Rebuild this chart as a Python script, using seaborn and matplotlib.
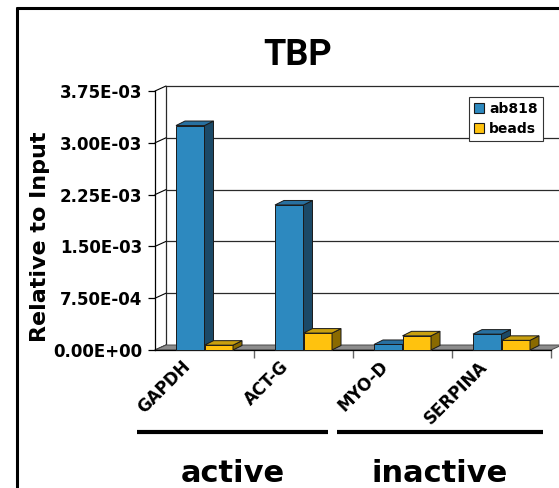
import matplotlib
matplotlib.use("Agg")
import matplotlib.pyplot as plt
import numpy as np
import pandas as pd
import seaborn as sns
from matplotlib import transforms
from matplotlib.font_manager import FontProperties
from matplotlib.lines import Line2D
from matplotlib.patches import Patch, Polygon

# ChIP enrichment for TBP, relative to input
genes = ["GAPDH", "ACT-G", "MYO-D", "SERPINA"]
series = ["ab818", "beads"]
ab818 = [3.25e-3, 2.10e-3, 8.0e-5, 2.3e-4]
beads = [7.0e-5, 2.45e-4, 2.05e-4, 1.4e-4]
ytick_values = [0.0, 7.5e-4, 1.5e-3, 2.25e-3, 3.0e-3, 3.75e-3]
ytick_labels = ["0.00E+00", "7.50E-04", "1.50E-03", "2.25E-03", "3.00E-03", "3.75E-03"]
group_names = ["active", "inactive"]
group_genes = [["GAPDH", "ACT-G"], ["MYO-D", "SERPINA"]]

# colours of the pseudo-3D boxes: front / top / side
FACE = {"ab818": "#2D89BF", "beads": "#FFC20E"}
TOP = {"ab818": "#2870A0", "beads": "#C9A00F"}
SIDE = {"ab818": "#1B4967", "beads": "#8A6A00"}
EDGE = "#1A1A1A"

W_PX, H_PX = 559, 488
DPI = 100
sns.set_style("white")
plt.rcParams["font.family"] = ["DejaVu Sans"]
plt.rcParams["text.color"] = "black"
plt.rcParams["axes.labelcolor"] = "black"
plt.rcParams["xtick.color"] = "black"
plt.rcParams["ytick.color"] = "black"

fig = plt.figure(figsize=(W_PX / DPI, H_PX / DPI), dpi=DPI)
ax_left, ax_bottom, ax_w, ax_h = 155, 138, 396, 259
ax = fig.add_axes([ax_left / W_PX, ax_bottom / H_PX, ax_w / W_PX, ax_h / H_PX])

df = pd.DataFrame({
    "gene": genes * len(series),
    "series": [s for s in series for _ in genes],
    "value": ab818 + beads,
})
sns.barplot(data=df, x="gene", y="value", hue="series", order=genes,
            hue_order=series, palette=[FACE[s] for s in series],
            width=0.576, saturation=1, errorbar=None, edgecolor=EDGE,
            linewidth=0.7, legend=False, ax=ax)

ymax = ytick_values[-1]
ax.set_xlim(-0.5, len(genes) - 0.5)
ax.set_ylim(0, ymax)
ax.set_xlabel("")
ax.set_ylabel("")
ax.set_facecolor("white")

# pixel depth -> data units
ux = ax_w / len(genes)
uy = ax_h / ymax
def depth(px_x, px_y):
    return px_x / ux, px_y / uy

wdx, wdy = depth(11, 5)     # walls / floor
bdx, bdy = depth(9, 4.5)    # bars
x0, x1 = ax.get_xlim()

# back-wall gridlines and its left edge
for v in ytick_values[1:]:
    ax.add_line(Line2D([x0 + wdx, x1 + wdx], [v + wdy, v + wdy], color="#2A2A2A",
                       lw=0.9, zorder=1, clip_on=False))
ax.add_line(Line2D([x0 + wdx, x0 + wdx], [wdy, ymax + wdy], color="#2A2A2A",
                   lw=0.9, zorder=1, clip_on=False))
# side-wall connectors from the front axis to the back wall
for v in ytick_values:
    ax.add_line(Line2D([x0, x0 + wdx], [v, v + wdy], color="black", lw=0.8,
                       zorder=2, clip_on=False))

# floor
ax.add_patch(Polygon([(x0, 0), (x1, 0), (x1 + wdx, wdy), (x0 + wdx, wdy)],
                     closed=True, facecolor="#8C8C8C", edgecolor="#4A4A4A",
                     lw=0.7, zorder=2, clip_on=False))

# boxes drawn left to right so nearer faces overlap correctly
bars = sorted(((p, s) for cont, s in zip(ax.containers, series) for p in cont),
              key=lambda t: t[0].get_x())
for k, (p, s) in enumerate(bars):
    z = 3 + 0.01 * k
    bx0 = p.get_x()
    bx1 = bx0 + p.get_width()
    h = p.get_height()
    p.set_zorder(z)
    p.set_clip_on(False)
    ax.add_patch(Polygon([(bx1, 0), (bx1, h), (bx1 + bdx, h + bdy), (bx1 + bdx, bdy)],
                         closed=True, facecolor=SIDE[s], edgecolor=EDGE, lw=0.7,
                         zorder=z + 0.001, clip_on=False))
    ax.add_patch(Polygon([(bx0, h), (bx1, h), (bx1 + bdx, h + bdy), (bx0 + bdx, h + bdy)],
                         closed=True, facecolor=TOP[s], edgecolor=EDGE, lw=0.7,
                         zorder=z + 0.002, clip_on=False))

# axes styling
for side in ["top", "right"]:
    ax.spines[side].set_visible(False)
ax.spines["left"].set_color("black")
ax.spines["left"].set_linewidth(0.9)
ax.spines["bottom"].set_color("black")
ax.spines["bottom"].set_linewidth(0.9)
ax.spines["bottom"].set_zorder(2.5)

ax.set_yticks(ytick_values, ytick_labels)
ax.tick_params(axis="y", left=True, length=5, width=0.9, color="black", pad=4,
               labelsize=12, labelcolor="black")
for lab in ax.get_yticklabels():
    lab.set_fontweight("bold")

ax.set_xticks(range(len(genes)), genes)
ax.set_xticks([i + 0.5 for i in range(len(genes))], minor=True)
ax.tick_params(axis="x", which="major", bottom=True, length=0, pad=0, labelsize=12,
               labelcolor="black")
ax.tick_params(axis="x", which="minor", bottom=True, length=6, width=1, color="#666666")
shift = transforms.ScaledTranslation(-17 / DPI, -14 / DPI, fig.dpi_scale_trans)
for lab in ax.get_xticklabels():
    lab.set_rotation(45)
    lab.set_rotation_mode("anchor")
    lab.set_ha("right")
    lab.set_va("center")
    lab.set_fontweight("bold")
    lab.set_transform(lab.get_transform() + shift)

# legend
handles = [Patch(facecolor=FACE[s], edgecolor=EDGE, lw=0.8) for s in series]
leg = fig.legend(handles, series, loc="upper left",
                 bbox_to_anchor=(469 / W_PX, 1 - 97 / H_PX),
                 bbox_transform=fig.transFigure, prop={"size": 10, "weight": "bold"},
                 handlelength=0.75, handleheight=0.75, handletextpad=0.35,
                 borderpad=0.35, labelspacing=0.45, borderaxespad=0,
                 frameon=True, fancybox=False, framealpha=1)
leg.get_frame().set_edgecolor("#333333")
leg.get_frame().set_linewidth(0.8)
for t in leg.get_texts():
    t.set_color("black")

# gene-group brackets below the axis
group_pad = [(0.68, 0.25), (0.66, 0.42)]
blend = transforms.blended_transform_factory(ax.transData, fig.transFigure)
for name, members, (lpad, rpad) in zip(group_names, group_genes, group_pad):
    first = genes.index(members[0])
    last = genes.index(members[-1])
    gx0, gx1 = first - lpad, last + rpad
    ax.add_line(Line2D([gx0, gx1], [1 - 432 / H_PX] * 2, transform=blend,
                       color="black", lw=3, solid_capstyle="butt", clip_on=False))
    ax.text((gx0 + gx1) / 2, 1 - 482 / H_PX, name, transform=blend, color="black",
            ha="center", va="baseline", fontsize=22, fontweight="bold")

# titles
title_font = FontProperties(family="Roboto", weight="bold", size=26)
fig.text(298 / W_PX, 1 - 65 / H_PX, "TBP", ha="center", va="baseline", color="black",
         fontproperties=title_font)
fig.text(40 / W_PX, 1 - 237 / H_PX, "Relative to Input", rotation=90, color="black",
         ha="center", va="center", fontsize=16, fontweight="bold")

# outer frame (left and top edges)
fig.add_artist(Line2D([17 / W_PX, 17 / W_PX], [0, 1 - 8 / H_PX], color="black",
                      lw=2.2, transform=fig.transFigure))
fig.add_artist(Line2D([17 / W_PX, 1], [1 - 8 / H_PX] * 2, color="black",
                      lw=2.2, transform=fig.transFigure))

fig.savefig("out.png", dpi=DPI)
